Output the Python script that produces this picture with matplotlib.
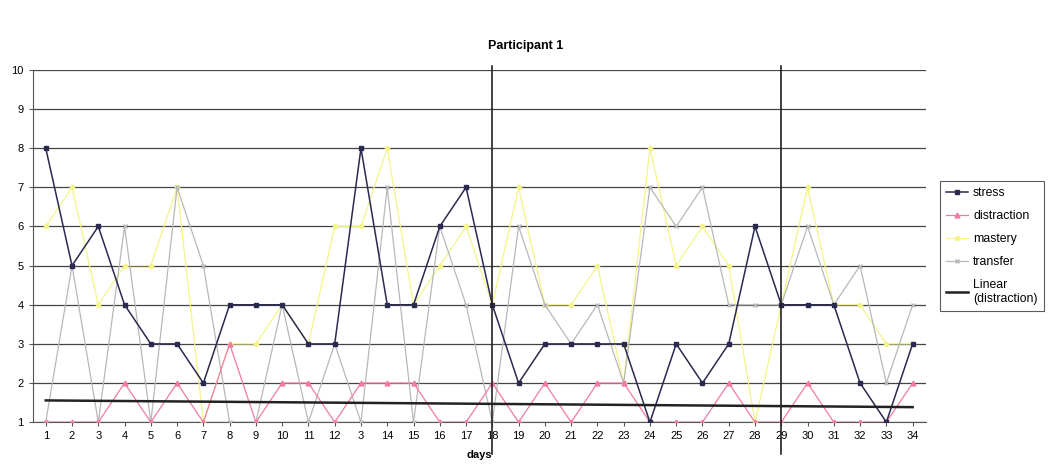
import numpy as np
import matplotlib
matplotlib.use("Agg")
import matplotlib.pyplot as plt

plt.rcParams['font.family'] = ['Liberation Sans', 'DejaVu Sans']

days = list(range(1, 35))
day_labels = [str(d) for d in days]
day_labels[12] = "3"  # as printed in the original

stress = [8, 5, 6, 4, 3, 3, 2, 4, 4, 4, 3, 3, 8, 4, 4, 6, 7, 4, 2, 3,
          3, 3, 3, 1, 3, 2, 3, 6, 4, 4, 4, 2, 1, 3]
distraction = [1, 1, 1, 2, 1, 2, 1, 3, 1, 2, 2, 1, 2, 2, 2, 1, 1, 2, 1, 2,
               1, 2, 2, 1, 1, 1, 2, 1, 1, 2, 1, 1, 1, 2]
mastery = [6, 7, 4, 5, 5, 7, 1, 3, 3, 4, 3, 6, 6, 8, 4, 5, 6, 4, 7, 4,
           4, 5, 2, 8, 5, 6, 5, 1, 4, 7, 4, 4, 3, 3]
transfer = [1, 5, 1, 6, 1, 7, 5, 1, 1, 4, 1, 3, 1, 7, 1, 6, 4, 1, 6, 4,
            3, 4, 2, 7, 6, 7, 4, 4, 4, 6, 4, 5, 2, 4]
phase_lines = [18, 29]

fig = plt.figure(figsize=(10.52, 4.66), dpi=100)
ax = fig.add_axes([0.031, 0.094, 0.849, 0.756])

ax.plot(days, stress, color='#2a2a50', lw=1.1, marker='s', ms=3.5, label='stress', zorder=5)
ax.plot(days, distraction, color='#f27aa6', lw=0.9, marker='^', ms=3.5, label='distraction', zorder=4)
ax.plot(days, mastery, color='#f4f48a', lw=0.9, marker='o', ms=3, label='mastery', zorder=3)
ax.plot(days, transfer, color='#b8b8b8', lw=0.9, marker='x', ms=3, label='transfer', zorder=3)

# linear trend of distraction
coef = np.polyfit(days, distraction, 1)
trend = np.polyval(coef, days)
ax.plot(days, trend, color='#222222', lw=1.8, label='Linear\n(distraction)', zorder=6)

for d in phase_lines:
    ax.axvline(d, ymin=-0.09, ymax=1.01, color='#222222', lw=1.2, clip_on=False, zorder=7)

ax.set_xlim(0.5, 34.5)
ax.set_ylim(1, 10)
ax.set_yticks(range(1, 11))
ax.set_xticks(days)
ax.set_xticklabels(day_labels)
ax.tick_params(labelsize=8, length=3, color='#555555')
ax.yaxis.grid(True, color='#444444', lw=0.9)
ax.set_axisbelow(True)
for s in ['top', 'right']:
    ax.spines[s].set_visible(False)
ax.spines['left'].set_color('#555555')
ax.spines['bottom'].set_color('#555555')

ax.set_xlabel('days', fontsize=8, fontweight='bold', labelpad=6)
fig.suptitle('Participant 1', fontsize=9, fontweight='bold', y=0.915, x=0.5)

leg = ax.legend(loc='center left', bbox_to_anchor=(1.016, 0.5), fontsize=8.8,
                frameon=True, fancybox=False, edgecolor='#333333',
                handlelength=1.8, handletextpad=0.4, labelspacing=0.9,
                borderpad=0.5, borderaxespad=0)
leg.get_frame().set_linewidth(0.8)

fig.savefig('out.png', dpi=100)
